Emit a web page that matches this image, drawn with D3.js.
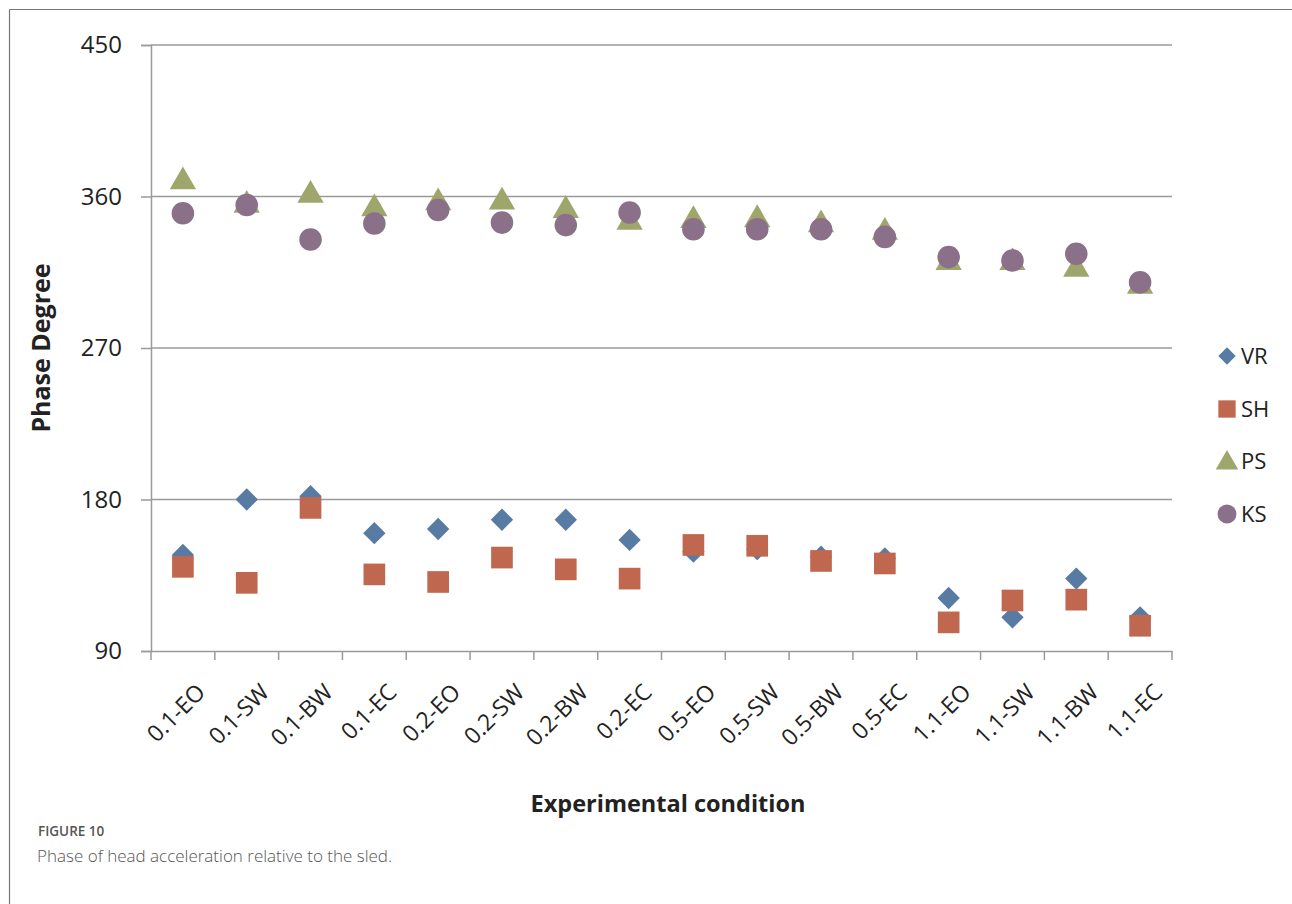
<!DOCTYPE html>
<html><head><meta charset="utf-8">
<script src="https://cdn.jsdelivr.net/npm/d3@7"></script>
<style>body{margin:0;background:#fff}</style>
</head><body>
<script>
const categories = ["0.1-EO","0.1-SW","0.1-BW","0.1-EC","0.2-EO","0.2-SW","0.2-BW","0.2-EC","0.5-EO","0.5-SW","0.5-BW","0.5-EC","1.1-EO","1.1-SW","1.1-BW","1.1-EC"];
const VR = [147,180,182,160,162.5,168,168,156,149,150.5,146,145,121.5,110,133,110];
const SH = [140,130.5,175,135.5,131,145.5,138.5,133,153,152.5,143.5,142,107,120,120.5,105];
const PS = [370,356,362,354,357.5,358,353,346,347,347.5,344.5,340,322,322,318,308];
const KS = [350,355,334.5,344,352,344.5,343,350.5,340.5,340.5,340.5,336,324,322,326,309];
const yTicks = [90,180,270,360,450];
const seriesNames = ["VR","SH","PS","KS"];
const seriesColors = ["#587BA3","#C0684F","#9EA66C","#8A7089"];

const W = 1292, H = 904;
const svg = d3.select("body").append("svg").attr("width", W).attr("height", H);
const font = "'Open Sans', 'DejaVu Sans', sans-serif";

// frame
svg.append("line").attr("x1",9.5).attr("x2",W).attr("y1",9.5).attr("y2",9.5).attr("stroke","#777").attr("stroke-width",1.2);
svg.append("line").attr("x1",9.5).attr("x2",9.5).attr("y1",9.5).attr("y2",H).attr("stroke","#777").attr("stroke-width",1.2);

const L = 151, R = 1172, T = 45, B = 651;
const x = d3.scaleBand().domain(categories).range([L, R]);
const y = d3.scaleLinear().domain([90, 450]).range([B, T]);

// gridlines
svg.append("g").selectAll("line").data(yTicks.filter(d => d !== 90)).join("line")
  .attr("x1", L).attr("x2", R).attr("y1", d => y(d)).attr("y2", d => y(d))
  .attr("stroke", "#9a9a9a").attr("stroke-width", 1.5);

// y axis
const yAxis = svg.append("g").attr("transform", `translate(${L},0)`)
  .call(d3.axisLeft(y).tickValues(yTicks).tickSize(10).tickPadding(19));
yAxis.select(".domain").attr("stroke", "#9a9a9a").attr("stroke-width", 1.5);
yAxis.selectAll(".tick line").attr("stroke", "#9a9a9a").attr("stroke-width", 1.5);
yAxis.selectAll("text").attr("font-family", font).attr("font-size", 24).attr("fill", "#222");

// x axis
const xAxis = svg.append("g").attr("transform", `translate(0,${B})`)
  .call(d3.axisBottom(x).tickSize(0).tickFormat(""));
xAxis.select(".domain").attr("stroke", "#9a9a9a").attr("stroke-width", 1.5);
const bounds = categories.map((c) => x(c)).concat([x(categories[categories.length-1]) + x.bandwidth()]);
svg.append("g").selectAll("line").data(bounds).join("line")
  .attr("x1", d => d).attr("x2", d => d).attr("y1", B).attr("y2", B + 9)
  .attr("stroke", "#9a9a9a").attr("stroke-width", 1.5);
svg.append("g").selectAll("text").data(categories).join("text")
  .attr("transform", d => `translate(${x(d) + x.bandwidth()/2 + 18},${B + 37}) rotate(-45)`)
  .attr("text-anchor", "end").attr("dy", "0.35em")
  .attr("font-family", font).attr("font-size", 23).attr("fill", "#222")
  .text(d => d);

// axis titles
svg.append("text").attr("transform", `translate(50,${(y(270))}) rotate(-90)`)
  .attr("text-anchor", "middle").attr("font-family", font).attr("font-weight", "bold")
  .attr("font-size", 25).attr("fill", "#222").text("Phase Degree");
svg.append("text").attr("x", 668).attr("y", 812)
  .attr("text-anchor", "middle").attr("font-family", font).attr("font-weight", "bold")
  .attr("font-size", 23.5).attr("fill", "#222").text("Experimental condition");

// markers
const shapes = [d3.symbolSquare, d3.symbolSquare, d3.symbolTriangle, d3.symbolCircle];
const sizes = [250, 470, 300, 400];
const allSeries = [VR, SH, PS, KS];
allSeries.forEach((vals, i) => {
  const sym = d3.symbol().type(shapes[i]).size(sizes[i]);
  svg.append("g").selectAll("path").data(vals).join("path")
    .attr("d", sym)
    .attr("transform", (d, j) => `translate(${x(categories[j]) + x.bandwidth()/2},${y(d) + (i===2?2:0)})${i===0?" rotate(45)":""}`)
    .attr("fill", seriesColors[i]);
});

// legend
const legY = [356, 409, 461, 514];
seriesNames.forEach((n, i) => {
  const g = svg.append("g").attr("transform", `translate(1227,${legY[i]})`);
  const lsizes = [150, 300, 220, 280];
  g.append("path").attr("d", d3.symbol().type(shapes[i]).size(lsizes[i])).attr("fill", seriesColors[i])
    .attr("transform", i===2 ? "translate(0,2)" : (i===0?"rotate(45)":""));
  g.append("text").attr("x", 14).attr("dy", "0.36em").attr("font-family", font)
    .attr("font-size", 22).attr("fill", "#222").text(n);
});

// caption
svg.append("text").attr("x", 38).attr("y", 836).attr("font-family", font).attr("font-weight", "600")
  .attr("font-size", 13.5).attr("fill", "#555").text("FIGURE 10");
svg.append("text").attr("x", 37).attr("y", 862).attr("font-family", font).attr("font-weight", "300")
  .attr("font-size", 17).attr("fill", "#555").text("Phase of head acceleration relative to the sled.");
</script>
</body></html>
